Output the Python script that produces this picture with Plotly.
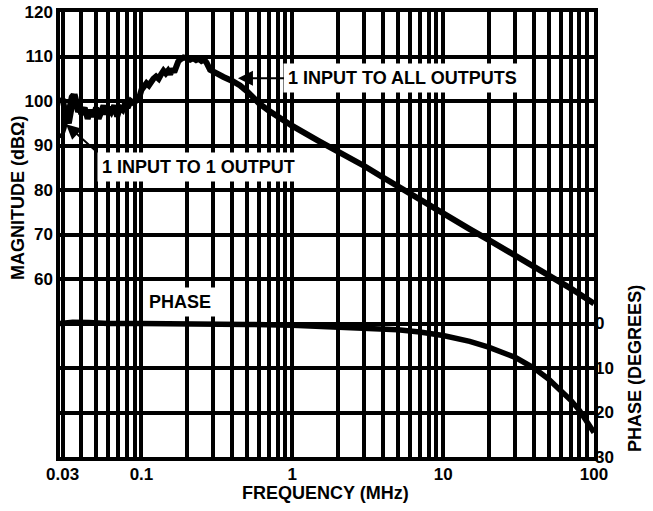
import math
import plotly.graph_objects as go

# ---------------- data ----------------
freq_all = [0.029, 0.030, 0.031, 0.032, 0.033, 0.034, 0.035, 0.036, 0.037, 0.038,
            0.039, 0.040, 0.042, 0.044, 0.046, 0.048, 0.050, 0.052, 0.054, 0.056,
            0.058, 0.060, 0.063, 0.066, 0.069, 0.072, 0.075, 0.078, 0.081, 0.085,
            0.089, 0.093, 0.097, 0.100, 0.104, 0.108, 0.112, 0.116, 0.120, 0.125,
            0.130, 0.135, 0.140, 0.145, 0.150, 0.155, 0.160, 0.165, 0.170, 0.175,
            0.180, 0.190, 0.200, 0.210, 0.220, 0.230, 0.240, 0.250, 0.260, 0.270,
            0.285, 0.300, 0.350, 0.400, 0.450, 0.500, 0.600, 0.700, 0.800, 1.0,
            1.5, 2, 3, 4, 5, 7, 10, 15, 20, 30,
            40, 50, 70, 100]
mag_all = [99.5, 100.5, 98, 96, 95, 97.5, 100.5, 101.5, 100, 97.5,
           98.5, 97, 98.5, 96, 98, 96.5, 98.5, 96, 97.5, 99,
           97, 98.5, 97.5, 99, 96.5, 98.5, 98, 99.5, 98.5, 100,
           99.5, 100.5, 101, 102.5, 103.5, 104, 103.5, 104.5, 105, 105.5,
           105, 106, 106.8, 106.2, 106.8, 106, 107.2, 106.5, 108, 108.8,
           109.3, 109.8, 109.6, 109.3, 109.6, 109.2, 109.5, 109, 109.3, 108.6,
           107, 106.5, 105.4, 104.5, 103.5, 102.2, 99.5, 97.8, 96.5, 94.4,
           91, 88.8, 85.4, 82.8, 80.8, 77.8, 74.7, 71.2, 68.8, 65.3,
           62.8, 60.9, 57.9, 54.5]

freq_one = [0.0285, 0.030, 0.031, 0.032, 0.033, 0.034, 0.035, 0.036, 0.037, 0.038, 0.040]
mag_one = [92, 92.5, 94, 96.5, 99, 101, 101.5, 100, 98.5, 98, 97]

freq_phase = [0.0285, 0.035, 0.045, 0.06, 0.1, 0.2, 0.3, 0.5, 1, 1.5, 2, 3, 5, 7,
              10, 15, 20, 30, 40, 50, 60, 70, 80, 90, 100]
phase_deg = [0, -0.3, -0.2, 0, 0, 0, 0.1, 0.2, 0.4, 0.6, 0.8, 1.0, 1.4, 1.9,
             2.7, 4.0, 5.3, 7.6, 10.0, 12.5, 15.0, 17.2, 19.5, 22.0, 24.5]

freq_grid = [0.03, 0.04, 0.05, 0.06, 0.07, 0.08, 0.09,
             0.1, 0.2, 0.3, 0.4, 0.5, 0.6, 0.7, 0.8, 0.9,
             1, 2, 3, 4, 5, 6, 7, 8, 9,
             10, 20, 30, 40, 50, 60, 70, 80, 90, 100]
freq_labels = {0.03: "0.03", 0.1: "0.1", 1: "1", 10: "10", 100: "100"}
mag_ticks = [20, 30, 40, 50, 60, 70, 80, 90, 100, 110, 120]
mag_labels = ["", "", "", "", "60", "70", "80", "90", "100", "110", "120"]
phase_ticks = [0, 10, 20, 30]
phase_labels = ["0", "10", "20", "30"]

FONT = "Liberation Sans, Arial, Helvetica, sans-serif"

fig = go.Figure()
fig.add_trace(go.Scatter(x=freq_one, y=mag_one, mode="lines",
                         line=dict(color="black", width=4), hoverinfo="skip"))
fig.add_trace(go.Scatter(x=freq_all, y=mag_all, mode="lines",
                         line=dict(color="black", width=6), hoverinfo="skip"))
fig.add_trace(go.Scatter(x=freq_phase, y=phase_deg, mode="lines", yaxis="y2",
                         line=dict(color="black", width=5.5), hoverinfo="skip"))

XR = [-1.54, 2.0]
GW = 3.5

fig.update_layout(
    width=653, height=511,
    margin=dict(l=60, r=59, t=12, b=54, autoexpand=False),
    paper_bgcolor="white", plot_bgcolor="white",
    showlegend=False,
    font=dict(family=FONT, size=17, color="black", weight="bold"),
    xaxis=dict(type="log", range=XR, automargin=False,
               tickvals=freq_grid,
               ticktext=[freq_labels.get(v, "") for v in freq_grid],
               ticklabelstandoff=-1, ticklabeloverflow="allow",
               showgrid=True, gridcolor="black", gridwidth=GW,
               showline=True, linecolor="black", linewidth=GW, mirror=True,
               ticks="", zeroline=False,
               tickfont=dict(size=17, family=FONT, weight="bold")),
    yaxis=dict(range=[20, 120], tickvals=mag_ticks, ticktext=mag_labels,
               automargin=False, ticklabeloverflow="allow",
               showgrid=True, gridcolor="black", gridwidth=GW,
               showline=True, linecolor="black", linewidth=GW, mirror=True,
               ticks="", zeroline=False,
               tickfont=dict(size=17, family=FONT, weight="bold")),
    yaxis2=dict(overlaying="y", side="right", range=[30, -70],
                automargin=False, ticklabeloverflow="allow",
                tickvals=phase_ticks, ticktext=phase_labels,
                showgrid=False, showline=False, zeroline=False, ticks="",
                tickfont=dict(size=17, family=FONT, weight="bold")),
)

ann_font = dict(family=FONT, size=18, color="black", weight="bold")

# Annotations with arrows / labels
fig.add_annotation(x=math.log10(0.436), y=105.1, xref="x", yref="y",
                   text="1 INPUT TO ALL OUTPUTS", showarrow=True,
                   ax=165, ay=0, arrowhead=2, arrowsize=1.5, arrowwidth=2,
                   arrowcolor="black", bgcolor="white", borderpad=4,
                   font=ann_font)
fig.add_annotation(x=-0.622, y=85.2, xref="x", yref="y",
                   text="1 INPUT TO 1 OUTPUT", showarrow=False,
                   bgcolor="white", borderpad=4, font=ann_font)
fig.add_annotation(x=-1.500, y=94.8, xref="x", yref="y",
                   text="", showarrow=True, ax=31, ay=28,
                   arrowhead=2, arrowsize=1.5, arrowwidth=2, arrowcolor="black")
fig.add_annotation(x=-0.7445, y=54.8, xref="x", yref="y",
                   text="PHASE", showarrow=False,
                   bgcolor="white", borderpad=4, font=ann_font)

# Axis titles as free annotations
fig.add_annotation(x=-0.0787, y=0.582, xref="paper", yref="paper",
                   text="MAGNITUDE (dBΩ)", textangle=-90, showarrow=False,
                   xanchor="center", yanchor="middle", font=ann_font)
fig.add_annotation(x=1.0768, y=0.198, xref="paper", yref="paper",
                   text="PHASE (DEGREES)", textangle=-90, showarrow=False,
                   xanchor="center", yanchor="middle", font=ann_font)
fig.add_annotation(x=0.497, y=-0.0809, xref="paper", yref="paper",
                   text="FREQUENCY (MHz)", showarrow=False,
                   xanchor="center", yanchor="middle", font=ann_font)

# remove the browser's default 8px page margin so the figure sits at (0, 0)
fig.write_html("out.html", config={"displayModeBar": False},
               post_script="document.body.style.margin='0';")
